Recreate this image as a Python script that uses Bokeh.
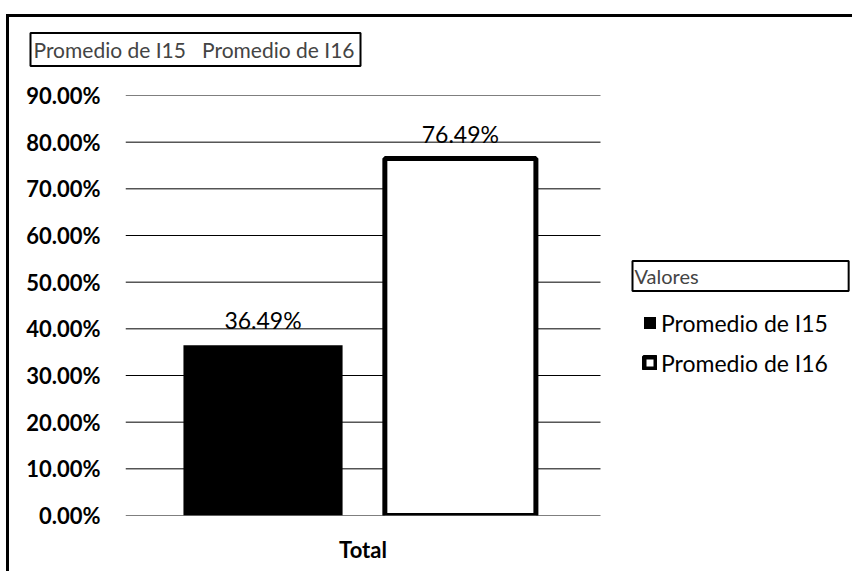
from bokeh.plotting import figure
from bokeh.models import (ColumnDataSource, Range1d, FixedTicker, NumeralTickFormatter,
                          LabelSet, Label, Legend, LegendItem)
from bokeh.transform import dodge
from bokeh.core.properties import value
from bokeh.embed import file_html
from bokeh.resources import INLINE

# ---- data ----
categories = ["Total"]
series_names = ["Promedio de I15", "Promedio de I16"]
i15_values = [0.3649]
i16_values = [0.7649]
y_ticks = [0.0, 0.1, 0.2, 0.3, 0.4, 0.5, 0.6, 0.7, 0.8, 0.9]
legend_title = "Valores"

FONT = "Lato"
N = len(categories)
x_centers = [i + 0.5 for i in range(N)]

p = figure(x_range=Range1d(0, N * 725 / 475), y_range=Range1d(0, 0.9),
           width=846, height=571, output_backend="svg", toolbar_location=None,
           min_border_left=119, min_border_right=2, min_border_top=95,
           min_border_bottom=56,
           styles={"margin-left": "6px",
                   "background": ("linear-gradient(#000, #000) 0 14px / 100% 3px no-repeat, "
                                  "linear-gradient(#000, #000) 0 14px / 3px 100% no-repeat")})
p.border_fill_color = None
p.background_fill_color = None

# gridlines across the category area only
p.segment(x0=[0] * len(y_ticks), x1=[N] * len(y_ticks), y0=y_ticks, y1=y_ticks,
          line_color="black", line_width=1)

src1 = ColumnDataSource(dict(x=x_centers, top=i15_values,
                             label=[f"{v*100:.2f}%" for v in i15_values]))
src2 = ColumnDataSource(dict(x=x_centers, top=i16_values,
                             label=[f"{v*100:.2f}%" for v in i16_values]))

r1 = p.vbar(x=dodge("x", -0.2105), top="top", width=0.335,
            source=src1, fill_color="black", line_color=None)
r2 = p.vbar(x=dodge("x", 0.205), top="top", width=0.318,
            source=src2, fill_color="white", line_color="black", line_width=5)

for src, off in ((src1, -0.2105), (src2, 0.205)):
    p.add_layout(LabelSet(x=dodge("x", off), y="top", text="label",
                          source=src, text_align="center", text_baseline="alphabetic",
                          y_offset=16, text_font=value(FONT), text_font_size="23px",
                          text_color="black"))

# axes / grid
p.yaxis.ticker = FixedTicker(ticks=y_ticks)
p.yaxis.formatter = NumeralTickFormatter(format="0.00%")
p.xaxis.ticker = FixedTicker(ticks=x_centers)
p.xaxis.major_label_overrides = {x: c for x, c in zip(x_centers, categories)}
for ax in (p.xaxis[0], p.yaxis[0]):
    ax.axis_line_color = None
    ax.major_tick_line_color = None
    ax.minor_tick_line_color = None
    ax.major_label_text_font = FONT
    ax.major_label_text_font_style = "bold"
    ax.major_label_text_font_size = "22px"
    ax.major_label_text_color = "black"
p.yaxis.major_label_standoff = 19
p.xaxis.major_label_standoff = 14
p.xgrid.grid_line_color = None
p.ygrid.grid_line_color = None
p.outline_line_color = None

# legend on the right (inside the wide frame)
legend = Legend(items=[LegendItem(label=series_names[0], renderers=[r1]),
                       LegendItem(label=series_names[1], renderers=[r2])],
                location=(517, 138.5), padding=0, margin=0, border_line_color=None,
                background_fill_alpha=0, glyph_width=15, glyph_height=15,
                label_standoff=4, spacing=12, label_text_font=FONT,
                label_text_font_size="23px", label_text_color="black")
p.add_layout(legend)

# "Valores" field button
p.add_layout(Label(x=507, y=239.5, x_units="screen", y_units="screen", text=legend_title,
                   text_baseline="middle", text_align="left", text_font=FONT,
                   text_font_size="20px", border_line_color="black", border_line_width=2,
                   padding=dict(left=2, right=150, top=3, bottom=3)))

# top field buttons (title)
p.title.text = series_names[0] + "\u00a0" * 3 + series_names[1]
p.title.align = "left"
p.title.offset = -95
p.title.text_font = FONT
p.title.text_font_size = "21px"
p.title.text_font_style = "normal"
p.title.border_line_color = "black"
p.title.border_line_width = 2
p.title.padding = dict(left=3, right=6, top=4, bottom=4)
p.title.standoff = 59

open("out.html", "w").write(file_html(p, INLINE))
